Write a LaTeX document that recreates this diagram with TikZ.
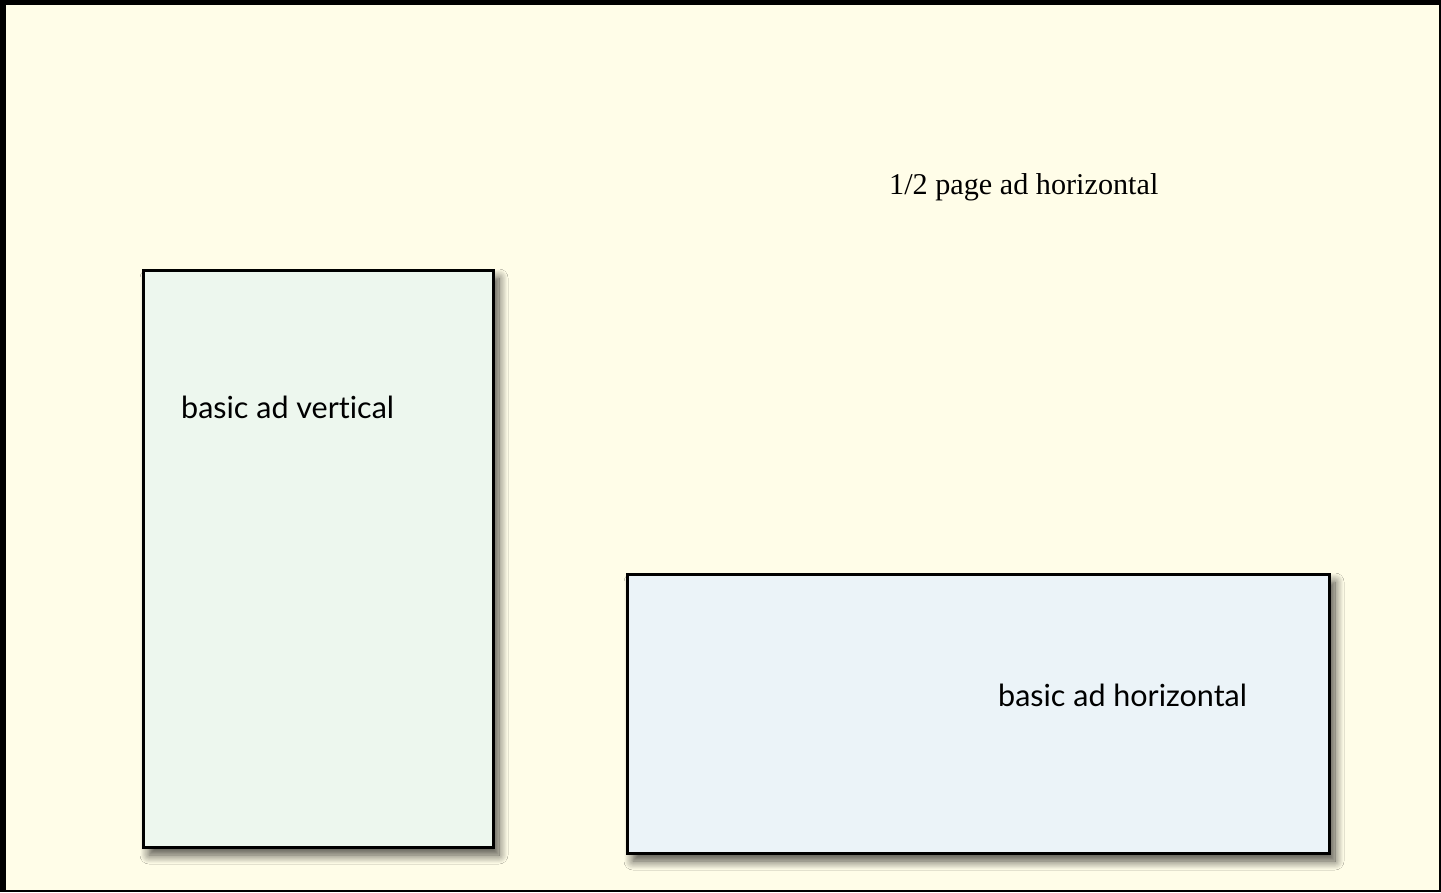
\documentclass[tikz,border=0pt]{standalone}
\usepackage{fontspec}
\setmainfont{Liberation Serif}
\newfontfamily\boxfont[Ligatures=NoCommon]{Lato}
\usetikzlibrary{shadows.blur}
\definecolor{pagebg}{HTML}{FFFDE8}
\definecolor{vfill}{HTML}{EDF7EE}
\definecolor{hfill}{HTML}{EBF3F8}
\tikzset{
  adbox/.style={draw=black, line width=3pt, inner sep=0pt, outer sep=0pt, anchor=north west, blur shadow={shadow xshift=6pt, shadow yshift=-8pt, shadow blur radius=9pt, shadow blur steps=12, shadow blur extra rounding=0pt, shadow opacity=70}},
  adlabel/.style={anchor=base west, inner sep=0pt, font=\boxfont\fontsize{30.5}{34}\selectfont},
}
\begin{document}
\begin{tikzpicture}[x=1pt,y=-1pt]
\useasboundingbox (0,0) rectangle (1441,892);
\fill[pagebg] (0,0) rectangle (1441,892);
\draw[black, line width=2pt] (0,891) -- (1440,891) -- (1440,0);
\fill[black] (0,0) rectangle (1441,5);
\fill[black] (0,0) rectangle (6,892);
\node[anchor=base west, inner sep=0pt, font=\fontsize{30.2}{34}\selectfont] (title) at (889,194) {1/2 page ad horizontal};
\node[adbox, fill=vfill, minimum width=350pt, minimum height=577pt] (vbox) at (143,270) {};
\node[adbox, fill=hfill, minimum width=702pt, minimum height=279pt] (hbox) at (627,574) {};
\node[adlabel] (vlabel) at (181,418) {basic ad vertical};
\node[adlabel] (hlabel) at (998,706) {basic ad horizontal};
\end{tikzpicture}
\end{document}
